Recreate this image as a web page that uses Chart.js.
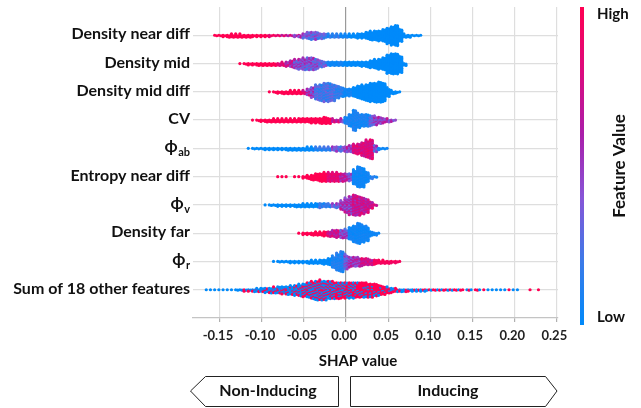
<!DOCTYPE html>
<html><head><meta charset="utf-8">
<script src="https://cdn.jsdelivr.net/npm/chart.js@4.4.1/dist/chart.umd.min.js"></script>
<style>html,body{margin:0;padding:0;background:#fff}#wrap{width:641px;height:408px}</style>
</head><body><div id="wrap"><canvas id="c" width="641" height="408"></canvas></div>
<script>
// ---------------- data ----------------
const FEATURES = ["Density near diff", "Density mid", "Density mid diff", "CV", "ϕ_ab",
  "Entropy near diff", "ϕ_v", "Density far", "ϕ_r", "Sum of 18 other features"];
const X_TICKS = [-0.15, -0.10, -0.05, 0.00, 0.05, 0.10, 0.15, 0.20, 0.25];
const X_TICK_LABELS = ["-0.15", "-0.10", "-0.05", "0.00", "0.05", "0.10", "0.15", "0.20", "0.25"];
const BIN = 0.005; // width of one SHAP bin
// SHAP value of the first bin of every row
const ROW_START = [-0.155, -0.125, -0.09, -0.11, -0.115, -0.08, -0.095, -0.055, -0.085, -0.165];
// number of samples per bin, and mean feature value (0 = low, 1 = high) per bin
const countsDensityNearDiff = [2,2,3,4,5,5,5,4,4,3, 3,3,3,3,2,2,2,2,2,3, 4,7,10,11,11,8,7,5,5,5, 5,5,5,5,7,7,10,13,14,15, 18,23,27,30,18,5,4,2,2,1];
const valueDensityNearDiff = [1,1,1,1,1,1,1,1,1,1, 1,1,1,.9,.9,.9,.7,.7,.7,.55, .55,.4,.35,.35,.35,.25,.25,.15,.15,.15, .05,.05,0,0,0,0,0,0,0,0, 0,0,0,0,0,0,0,0,0,0];
const countsDensityMid = [1,2,3,3,4,4,4,4,4,4, 5,7,10,13,15,17,18,18,15,10, 7,6,6,6,6,6,6,6,6,7, 8,11,13,15,18,27,30,30,24,4];
const valueDensityMid = [1,1,1,1,1,1,1,1,1,.85, .85,.65,.65,.45,.45,.45,.4,.4,.4,.3, .3,.05,.05,.05,.05,0,0,0,0,0, 0,0,0,0,0,0,0,0,0,0];
const countsDensityMidDiff = [1,2,3,4,4,5,5,5,5,10, 15,21,24,27,27,24,18,14,11,11, 14,18,21,24,27,28,30,27,13,5, 3,1];
const valueDensityMidDiff = [1,1,1,1,1,1,1,1,.85,.55, .45,.25,.22,.22,.22,.22,.15,.15,.05,.05, 0,0,0,0,0,0,0,0,0,0, 0,0];
const countsCV = [1,2,3,4,4,5,5,5,5,5, 5,6,6,6,7,7,8,10,8,5, 4,5,10,18,30,21,18,18,15,13, 10,7,5,3,1];
const valueCV = [1,1,1,1,1,1,1,1,1,1, 1,1,1,1,1,1,1,1,1,.75, .75,.45,.08,.08,.08,.08,.08,.08,.3,.5, .5,.5,.5,.5,.5];
const countsPhiAb = [1,2,2,2,3,3,3,3,3,4, 4,4,4,4,5,5,5,5,5,5, 6,7,7,8,10,13,15,20,25,28, 10,3,2,1];
const valuePhiAb = [0,0,0,0,0,0,0,0,0,0, 0,0,0,0,0,0,.15,.15,.15,.15, .35,.35,.35,.5,.5,.8,.8,.8,.8,.8, .4,.05,.05,.05];
const countsEntropyNearDiff = [1,1,1,0,1, 1,3,5,8,10, 12,13,13,13,13, 12,11,11,21,30, 28,15,4,2];
const valueEntropyNearDiff = [1,1,1,1,1,1,1,1,1,1, 1,1,.85,.85,.85,.65,.65,.4,.05,.05, .05,.05,.1,.1];
const countsPhiV = [1,2,2,3,3,3,3,4,4,5, 5,5,6,7,6,5,5,7,13,21, 27,30,28,24,20,10,2];
const valuePhiV = [0,0,0,0,0,0,0,0,0,0, 0,0,0,.15,.15,.15,.35,.35,.55,.55, .55,.7,.7,.7,.7,.75,.75];
const countsDensityFar = [1,3,3,4,5,5,7,8,10,11, 12,13,18,24,30,25,21,7,4,1];
const valueDensityFar = [1,1,1,1,1,1,1,.7,.7,.7, .45,.45,.05,.05,.05,.05,.05,.05,.05,.05];
const countsPhiR = [1,2,2,2,3,3,3,3,4,5, 5,6,7,10,17,25,30,21,15,14, 13,11,10,8,7,5,5,4,3,3, 1];
const valuePhiR = [0,0,0,0,0,0,0,0,0,0, 0,0,0,0,.1,.1,.1,.35,.55,.55, .55,.75,.75,.75,.95,.95,.95,.95,.95,.95, .95];
const countsOther = [1,1,1,1,1,1,1,2,2,3, 3,4,5,6,7,8,9,10,11,12, 13,15,17,19,22,25,28,29,28,26, 25,24,23,23,23,23,22,22,21,20, 18,15,12,9,7,5,4,4,3,3, 3,3,3,2,2,2,2,2,2,2, 2,1,2,1,2,1,1,1,1,1, 1,1,1,1,1,0,0,1,0,1];
const valueOther = [0,0,0,0,0,0,0,0,.3,.3, .3,.3,.3,.3,.3,.35,.35,.35,.35,.35, .35,.35,.35,.5,.5,.5,.5,.5,.5,.5, .5,.6,.6,.6,.6,.6,.75,.75,.75,.75, .75,.75,.75,.75,.55,.55,.55,.4,.4,.4, .4,.4,.4,.4,.4,.6,.6,.6,.6,.6, .6,.6,.6,.6,.6,.6,.6,.2,.2,.2, .2,.2,.2,.2,.2,0,0,1,0,1];

const COUNTS = [countsDensityNearDiff, countsDensityMid, countsDensityMidDiff, countsCV, countsPhiAb,
  countsEntropyNearDiff, countsPhiV, countsDensityFar, countsPhiR, countsOther];
const VALUES = [valueDensityNearDiff, valueDensityMid, valueDensityMidDiff, valueCV, valuePhiAb,
  valueEntropyNearDiff, valuePhiV, valueDensityFar, valuePhiR, valueOther];

// ---------------- styling ----------------
const COLOR_STOPS = [[0,0,138,250],[0.2,60,122,232],[0.4,135,85,215],[0.6,170,30,170],[0.8,220,10,125],[1,255,0,82]];
const FONT = 'Lato';
const STACK = 0.0495;   // vertical swarm spacing (row units)
function colorAt(t){
  for (let i=1;i<COLOR_STOPS.length;i++){
    const a=COLOR_STOPS[i-1], b=COLOR_STOPS[i];
    if (t<=b[0]){
      const f=(t-a[0])/(b[0]-a[0]);
      return `rgb(${Math.round(a[1]+(b[1]-a[1])*f)},${Math.round(a[2]+(b[2]-a[2])*f)},${Math.round(a[3]+(b[3]-a[3])*f)})`;
    }
  }
  return 'rgb(255,0,82)';
}

let g = 0;
const datasets = COUNTS.map((counts,row)=>{
  const pts=[], cols=[];
  const binary = row === FEATURES.length-1;
  counts.forEach((n,b)=>{
    const cx = ROW_START[row] + b*BIN;
    const v = VALUES[row][b];
    for (let k=0;k<n;k++){
      const col = k%2, r = Math.floor(k/2);
      const off = r===0 ? 0 : (r%2===1 ? Math.ceil(r/2) : -Math.ceil(r/2));
      pts.push({x: cx + (col ? 0.25 : -0.25)*BIN, y: row + (off + (col ? 0.35 : 0))*STACK});
      g++;
      const qq = (g*0.6180339887) % 1;
      let t;
      if (binary) t = qq < v ? 1 : 0;
      else t = Math.min(1, Math.max(0, v + 0.9*v*(1-v)*(2*qq-1)));
      cols.push(colorAt(t));
    }
  });
  return {data: pts, pointBackgroundColor: cols, pointBorderWidth: 0, pointRadius: 1.6, pointHoverRadius: 1.6, showLine: false};
});

function drawFeatureLabel(ctx, label, xRight, yBase){
  const parts = label.split('_');
  if (parts.length === 1){
    ctx.font = `bold 16px ${FONT}`; ctx.textAlign='right';
    ctx.fillText(label, xRight, yBase); return;
  }
  ctx.textAlign='left';
  ctx.font = `bold 11px ${FONT}`;
  const ws = ctx.measureText(parts[1]).width;
  ctx.fillText(parts[1], xRight - ws, yBase + 4);
  ctx.font = `bold 17px ${FONT}`;
  const wm = ctx.measureText(parts[0]).width;
  ctx.fillText(parts[0], xRight - ws - wm - 0.5, yBase);
}

const overlay = {
  id: 'overlay',
  beforeDraw(chart){ const c=chart.ctx; c.save(); c.fillStyle='#fff'; c.fillRect(0,0,chart.width,chart.height); c.restore(); },
  afterDraw(chart){
    const ctx = chart.ctx, ys = chart.scales.y;
    ctx.save();
    ctx.fillStyle = '#111';
    ctx.textBaseline = 'alphabetic';
    FEATURES.forEach((f,i)=> drawFeatureLabel(ctx, f, 190, ys.getPixelForValue(i) + 4));
    ctx.textBaseline = 'middle';
    ctx.font = `bold 15px ${FONT}`; ctx.textAlign = 'center';
    ctx.fillText('SHAP value', 358, 361);
    // colour bar
    const gr = ctx.createLinearGradient(0, 325, 0, 7);
    COLOR_STOPS.forEach(s => gr.addColorStop(s[0], `rgb(${s[1]},${s[2]},${s[3]})`));
    ctx.fillStyle = gr; ctx.fillRect(580, 7, 4, 318);
    ctx.fillStyle = '#111'; ctx.font = `bold 15px ${FONT}`; ctx.textAlign = 'left';
    ctx.fillText('High', 597, 14);
    ctx.fillText('Low', 597, 317);
    ctx.save(); ctx.translate(620, 166); ctx.rotate(-Math.PI/2);
    ctx.font = `bold 17px ${FONT}`; ctx.textAlign = 'center'; ctx.fillText('Feature Value', 0, 0);
    ctx.restore();
    // direction arrows
    ctx.strokeStyle = '#222'; ctx.lineWidth = 1; ctx.fillStyle = '#fff';
    ctx.beginPath(); ctx.moveTo(190.5,391); ctx.lineTo(205.5,376.5); ctx.lineTo(338.5,376.5); ctx.lineTo(338.5,406.5); ctx.lineTo(205.5,406.5); ctx.closePath(); ctx.fill(); ctx.stroke();
    ctx.beginPath(); ctx.moveTo(350.5,376.5); ctx.lineTo(545.5,376.5); ctx.lineTo(557,391); ctx.lineTo(545.5,406.5); ctx.lineTo(350.5,406.5); ctx.closePath(); ctx.fill(); ctx.stroke();
    ctx.fillStyle = '#111'; ctx.font = `bold 16px ${FONT}`; ctx.textAlign = 'center'; ctx.textBaseline = 'middle';
    ctx.fillText('Non-Inducing', 268, 391);
    ctx.fillText('Inducing', 448, 391);
    ctx.restore();
  }
};

new Chart(document.getElementById('c'), {
  type: 'scatter',
  data: { datasets },
  options: {
    responsive: false, animation: false, devicePixelRatio: 1, events: [],
    layout: { padding: { left: 193, right: 83, top: 7, bottom: 0 } },
    plugins: { legend: { display: false }, tooltip: { enabled: false } },
    scales: {
      x: {
        type: 'linear', min: -0.182, max: 0.252,
        afterBuildTicks: s => { s.ticks = X_TICKS.map(v => ({ value: v })); },
        afterFit: s => { s.height = 90; },
        grid: {
          color: c => (c.tick && Math.abs(c.tick.value) < 1e-9) ? '#9a9a9a' : '#dedede',
          tickColor: '#b0b0b0', lineWidth: 1.2, tickLength: 4, drawTicks: true
        },
        border: { display: true, color: '#c4c4c4', width: 1.2 },
        ticks: {
          callback: (v, i) => X_TICK_LABELS[i], autoSkip: false, maxRotation: 0, labelOffset: -2,
          font: { family: FONT, weight: 'bold', size: 13 }, color: '#222', padding: 6
        }
      },
      y: {
        type: 'linear', min: -1, max: 10, reverse: true,
        afterBuildTicks: s => { s.ticks = FEATURES.map((f, i) => ({ value: i })); },
        afterFit: s => { s.width = 0; },
        ticks: { display: false },
        grid: { color: '#dedede', lineWidth: 1.2, drawTicks: false },
        border: { display: false }
      }
    }
  },
  plugins: [overlay]
});
</script>
</body></html>
